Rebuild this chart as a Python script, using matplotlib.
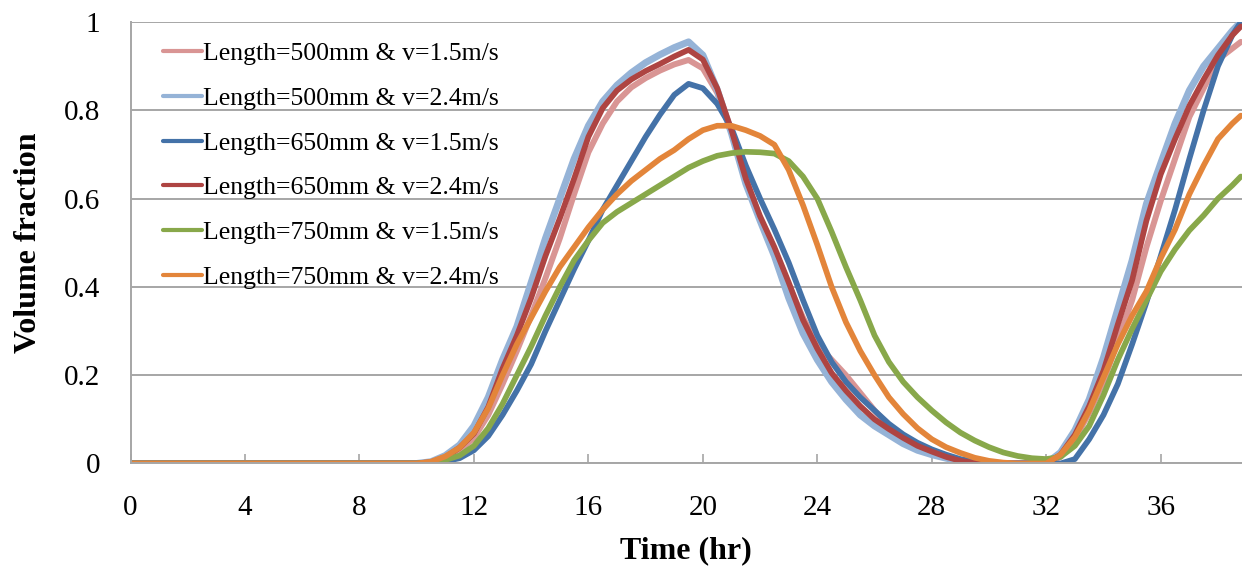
import matplotlib
matplotlib.use('Agg')
import matplotlib.pyplot as plt
import numpy as np

plt.rcParams['font.family'] = ['Liberation Serif', 'DejaVu Serif']

# sampling times (hr)
time_hr = [0, 10,
           10.5, 11, 11.5, 12, 12.5, 13, 13.5, 14, 14.5,
           15, 15.5, 16, 16.5, 17, 17.5, 18, 18.5, 19, 19.5,
           20, 20.5, 21, 21.5, 22, 22.5, 23, 23.5, 24, 24.5,
           25, 25.5, 26, 26.5, 27, 27.5, 28, 28.5, 29, 29.5,
           30, 30.5, 31, 31.5, 32, 32.5, 33, 33.5, 34, 34.5,
           35, 35.5, 36, 36.5, 37, 37.5, 38, 38.5, 38.8]

# volume fraction per case
vf_500_15 = [0, 0,
             0.002, 0.01, 0.03, 0.058, 0.11, 0.18, 0.255, 0.335, 0.42,
             0.51, 0.61, 0.705, 0.77, 0.82, 0.852, 0.873, 0.89, 0.904, 0.914,
             0.895, 0.84, 0.75, 0.645, 0.555, 0.485, 0.405, 0.33, 0.27, 0.235,
             0.2, 0.16, 0.12, 0.085, 0.06, 0.043, 0.028, 0.016, 0.007, 0.002,
             0, 0, 0, 0, 0, 0.015, 0.055, 0.115, 0.185, 0.28,
             0.37, 0.49, 0.595, 0.69, 0.785, 0.85, 0.915, 0.94, 0.955]
vf_500_24 = [0, 0,
             0.004, 0.018, 0.042, 0.085, 0.15, 0.235, 0.31, 0.41, 0.51,
             0.60, 0.69, 0.765, 0.82, 0.857, 0.885, 0.908, 0.926, 0.942, 0.955,
             0.925, 0.847, 0.748, 0.634, 0.55, 0.47, 0.375, 0.295, 0.235, 0.185,
             0.145, 0.11, 0.085, 0.065, 0.045, 0.03, 0.02, 0.012, 0.005, 0.001,
             0, 0, 0, 0, 0, 0.025, 0.075, 0.145, 0.24, 0.35,
             0.46, 0.588, 0.68, 0.77, 0.845, 0.9, 0.94, 0.98, 1.0]
vf_650_15 = [0, 0,
             0.001, 0.005, 0.012, 0.03, 0.062, 0.11, 0.165, 0.225, 0.3,
             0.37, 0.44, 0.505, 0.575, 0.63, 0.685, 0.74, 0.79, 0.835, 0.86,
             0.85, 0.815, 0.76, 0.675, 0.6, 0.53, 0.455, 0.37, 0.29, 0.23,
             0.185, 0.15, 0.12, 0.09, 0.066, 0.047, 0.032, 0.02, 0.01, 0.004,
             0.001, 0, 0, 0, 0, 0, 0.01, 0.055, 0.11, 0.18,
             0.27, 0.365, 0.47, 0.575, 0.69, 0.8, 0.9, 0.97, 1.0]
vf_650_24 = [0, 0,
             0.003, 0.014, 0.036, 0.068, 0.128, 0.215, 0.29, 0.375, 0.47,
             0.555, 0.645, 0.74, 0.805, 0.845, 0.87, 0.889, 0.905, 0.922, 0.937,
             0.915, 0.85, 0.755, 0.645, 0.56, 0.49, 0.41, 0.325, 0.26, 0.205,
             0.165, 0.13, 0.1, 0.078, 0.058, 0.04, 0.027, 0.015, 0.006, 0.001,
             0, 0, 0, 0, 0, 0.02, 0.065, 0.13, 0.21, 0.315,
             0.415, 0.55, 0.655, 0.735, 0.81, 0.87, 0.925, 0.97, 0.99]
vf_750_15 = [0, 0,
             0.002, 0.008, 0.018, 0.04, 0.08, 0.135, 0.2, 0.265, 0.335,
             0.4, 0.46, 0.505, 0.545, 0.57, 0.59, 0.61, 0.63, 0.65, 0.67,
             0.685, 0.697, 0.703, 0.706, 0.705, 0.702, 0.685, 0.65, 0.6, 0.525,
             0.445, 0.37, 0.29, 0.23, 0.185, 0.15, 0.12, 0.093, 0.07, 0.052,
             0.037, 0.025, 0.017, 0.012, 0.01, 0.015, 0.04, 0.085, 0.155, 0.235,
             0.305, 0.37, 0.435, 0.485, 0.528, 0.562, 0.6, 0.63, 0.65]
vf_750_24 = [0, 0,
             0.004, 0.016, 0.036, 0.07, 0.125, 0.2, 0.27, 0.33, 0.39,
             0.445, 0.49, 0.535, 0.575, 0.61, 0.64, 0.665, 0.69, 0.71, 0.735,
             0.755, 0.765, 0.765, 0.755, 0.742, 0.722, 0.665, 0.585, 0.495, 0.4,
             0.32, 0.255, 0.2, 0.15, 0.112, 0.08, 0.055, 0.037, 0.024, 0.013,
             0.006, 0.002, 0, 0, 0, 0.02, 0.06, 0.12, 0.195, 0.27,
             0.335, 0.39, 0.465, 0.53, 0.61, 0.675, 0.735, 0.77, 0.788]

labels = ['Length=500mm & v=1.5m/s', 'Length=500mm & v=2.4m/s',
          'Length=650mm & v=1.5m/s', 'Length=650mm & v=2.4m/s',
          'Length=750mm & v=1.5m/s', 'Length=750mm & v=2.4m/s']
series = [vf_500_15, vf_500_24, vf_650_15, vf_650_24, vf_750_15, vf_750_24]
colors = ['#D99594', '#95B3D7', '#4472A8', '#AE4442', '#88A84A', '#E3853A']
widths = [4.3, 5.0, 4.1, 4.1, 4.1, 4.1]

x_ticks = [0, 4, 8, 12, 16, 20, 24, 28, 32, 36]
y_ticks = [0, 0.2, 0.4, 0.6, 0.8, 1.0]
y_tick_labels = ['0', '0.2', '0.4', '0.6', '0.8', '1']

grid_color = '#A6A6A6'

fig = plt.figure(figsize=(12.42, 5.66), dpi=100)
ax = fig.add_axes([0.1051, 0.1811, 0.8949, 0.7800])

t = np.array(time_hr)
for vals, lab, col, lw in zip(series, labels, colors, widths):
    ax.plot(t, np.array(vals), color=col, lw=lw, label=lab,
            solid_capstyle='round', solid_joinstyle='round')

ax.set_xlim(0, 38.84)
ax.set_ylim(0, 1.0)
ax.set_xticks(x_ticks)
ax.set_yticks(y_ticks)
ax.set_yticklabels(y_tick_labels)
ax.yaxis.grid(True, color=grid_color, lw=1.4)
ax.set_axisbelow(True)

for side in ['top', 'right']:
    ax.spines[side].set_visible(False)
for side in ['left', 'bottom']:
    ax.spines[side].set_color(grid_color)
    ax.spines[side].set_linewidth(1.4)

ax.tick_params(axis='x', direction='in', length=6.5, width=1.2, color=grid_color,
               labelsize=21, pad=22.5)
ax.tick_params(axis='y', length=0, labelsize=21, pad=22)

fig.text(0.5524, 0.0141, 'Time (hr)', ha='center', va='baseline',
         fontsize=23, fontweight='bold')
fig.text(0.0233, 0.5707, 'Volume fraction', ha='center', va='center',
         rotation=90, fontsize=23, fontweight='bold')

leg = ax.legend(loc='upper left', bbox_to_anchor=(0.029, 0.955), frameon=False,
                fontsize=18.5, handlelength=1.52, handletextpad=0.05,
                labelspacing=0.85, borderpad=0, borderaxespad=0)
for h in leg.get_lines():
    h.set_linewidth(3.0)

fig.savefig('out.png', dpi=100)
